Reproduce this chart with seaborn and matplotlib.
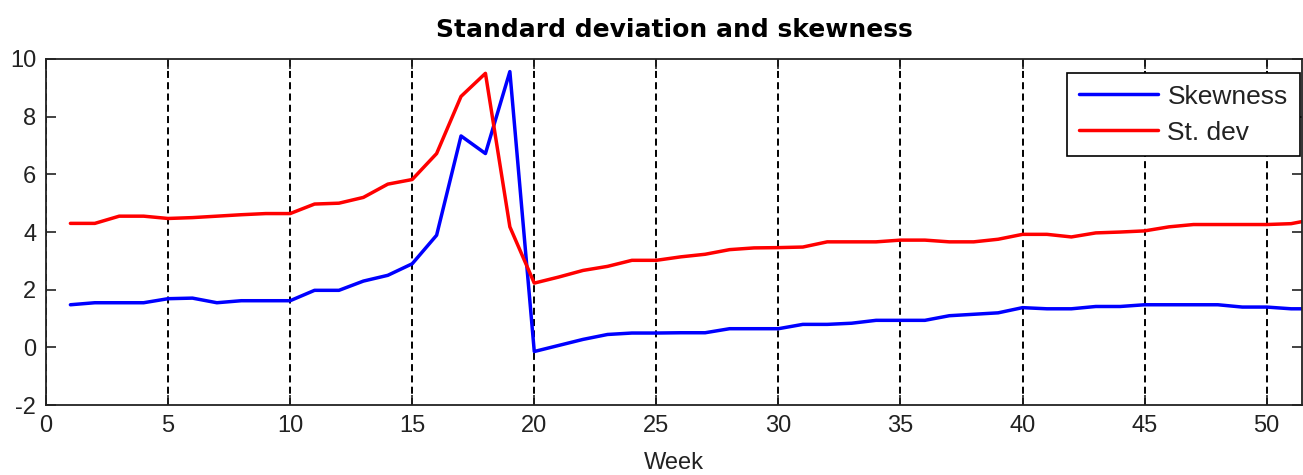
import numpy as np
import pandas as pd
import matplotlib
matplotlib.use("Agg")
import matplotlib.pyplot as plt
import seaborn as sns

weeks = list(range(1, 53))
skewness = [1.48, 1.55, 1.55, 1.55, 1.69, 1.71, 1.55, 1.62, 1.62, 1.62,
            1.98, 1.98, 2.30, 2.50, 2.90, 3.89, 7.33, 6.72, 9.56, -0.14,
            0.07, 0.28, 0.45, 0.50, 0.50, 0.51, 0.51, 0.65, 0.65, 0.65,
            0.80, 0.80, 0.84, 0.94, 0.94, 0.94, 1.10, 1.15, 1.20, 1.38,
            1.34, 1.34, 1.42, 1.42, 1.48, 1.48, 1.48, 1.48, 1.40, 1.40,
            1.34, 1.34]
st_dev = [4.30, 4.30, 4.55, 4.55, 4.47, 4.50, 4.55, 4.60, 4.64, 4.64,
          4.97, 5.00, 5.20, 5.66, 5.82, 6.72, 8.70, 9.50, 4.18, 2.23,
          2.44, 2.67, 2.81, 3.02, 3.02, 3.14, 3.23, 3.39, 3.45, 3.46,
          3.48, 3.66, 3.66, 3.66, 3.72, 3.72, 3.66, 3.66, 3.75, 3.92,
          3.92, 3.83, 3.97, 4.00, 4.04, 4.18, 4.26, 4.26, 4.26, 4.26,
          4.29, 4.45]
series_names = ["Skewness", "St. dev"]
x_ticks = list(range(0, 55, 5))
y_ticks = list(range(-2, 11, 2))

df = pd.DataFrame({
    "Week": weeks * 2,
    "value": skewness + st_dev,
    "series": [series_names[0]] * len(weeks) + [series_names[1]] * len(weeks),
})

sns.set_style("ticks")
plt.rcParams["font.family"] = ["Liberation Sans", "DejaVu Sans"]
plt.rcParams["axes.unicode_minus"] = False

fig = plt.figure(figsize=(13.03, 4.75), dpi=100)
ax = fig.add_axes([0.0353, 0.147, 0.964, 0.729])

sns.lineplot(data=df, x="Week", y="value", hue="series",
             palette={"Skewness": "#0000ff", "St. dev": "#ff0000"},
             linewidth=2.5, ax=ax, legend=True)

ax.set_xlim(0, 51.45)
ax.set_ylim(-2, 10)
ax.set_xticks(x_ticks)
ax.set_yticks(y_ticks)
ax.tick_params(direction="in", length=7, width=1.2, top=True, right=True,
               labelsize=17, colors="#222222")
ax.tick_params(axis="x", pad=7)
ax.tick_params(axis="y", pad=7)
for s in ax.spines.values():
    s.set_linewidth(1.3)
    s.set_color("#222222")
ax.xaxis.grid(True, linestyle=(0, (3.6, 2.2)), color="black", linewidth=1.4)
ax.yaxis.grid(False)

ax.set_xlabel("Week", fontsize=17, labelpad=11, color="#222222")
ax.set_ylabel("")
ax.set_title("Standard deviation and skewness", fontsize=18, fontweight="bold",
             family="DejaVu Sans", pad=16, color="black")

leg = ax.legend(loc="upper right", bbox_to_anchor=(0.998, 0.96), borderaxespad=0,
                fontsize=19, frameon=True, fancybox=False,
                edgecolor="black", handlelength=3.0, borderpad=0.45,
                labelspacing=0.45, handletextpad=0.35)
leg.get_frame().set_linewidth(1.2)
leg.get_frame().set_alpha(1)
for t in leg.get_texts():
    t.set_color("#222222")

fig.savefig("out.png", dpi=100)
